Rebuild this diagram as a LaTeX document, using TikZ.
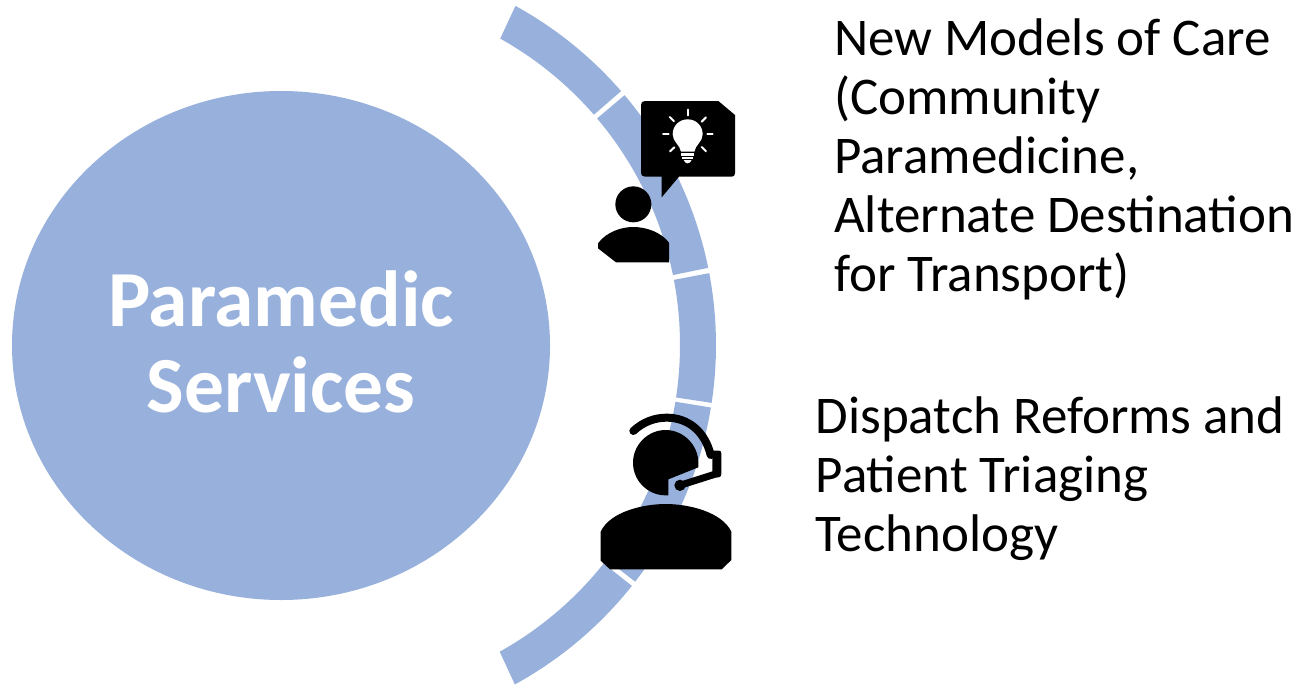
\documentclass[tikz,border=0pt]{standalone}
\usepackage{fontspec}
\setmainfont{Carlito}
\usetikzlibrary{shapes.geometric}
\definecolor{bandblue}{HTML}{98B1DC}
\tikzset{
  bodytext/.style={anchor=north west,inner sep=0pt,align=left,text=black,font=\fontsize{53}{59}\selectfont},
  seg/.style={fill=bandblue,draw=none},
  icon/.style={fill=black,draw=none},
  iconw/.style={draw=white,line width=2pt,line cap=round}
}
\begin{document}
\begin{tikzpicture}[x=1pt,y=-1pt]
\useasboundingbox (0,0) rectangle (1305,685);
\node[ellipse,fill=bandblue,minimum width=538pt,minimum height=509pt,inner sep=0pt] (main) at (281,345.5) {};
\node[inner sep=0pt,align=center,text=white,font=\fontsize{79.5}{86}\selectfont\bfseries] (maintitle) at (281,342) {Paramedic\\Services};
\def\cx{329}
\foreach \a/\b/\c/\d in {61.2/41.0/60.8/41.0,40.2/11.5/40.2/11.5,10.7/-8.6/10.7/-8.6,-9.3/-37.7/-9.3/-37.7,-38.5/-61.3/-38.5/-60.9}{
  \fill[seg] ({\cx+387*cos(\a)},{345-387*sin(\a)})
    arc[start angle=\a,end angle=\b,radius=387pt]
    -- ({\cx+351*cos(\d)},{345-351*sin(\d)})
    arc[start angle=\d,end angle=\c,radius=351pt] -- cycle;
}
% idea icon
\begin{scope}[shift={(580,80)},scale=1/3]
  \fill[icon] (195,63) -- (415,63) -- (465,105) -- (465,280)
     .. controls (465,287) and (461,290) .. (455,290) -- (297,290) -- (245,352) -- (245,290) -- (195,290)
     .. controls (187,290) and (183,286) .. (183,278) -- (183,75) .. controls (183,67) and (187,63) .. (195,63) -- cycle;
  \fill[white] (323,118) .. controls (297,118) and (278,138) .. (278,163)
     .. controls (278,185) and (300,195) .. (303,215) -- (343,215)
     .. controls (346,195) and (368,185) .. (368,163) .. controls (368,138) and (349,118) .. (323,118) -- cycle;
  \fill[white] (303,219) rectangle (343,228);
  \fill[white] (307,232) rectangle (339,238);
  \fill[white] (311,240) -- (335,240) .. controls (332,247) and (327,250) .. (323,250) .. controls (318,250) and (314,247) .. (311,240) -- cycle;
  \draw[iconw] (323,89) -- (323,106);
  \draw[iconw] (269,111) -- (282,124);
  \draw[iconw] (378,112) -- (365,125);
  \draw[iconw] (249,163) -- (266,163);
  \draw[iconw] (382,163) -- (398,163);
  \draw[iconw] (270,214) -- (283,202);
  \draw[iconw] (378,214) -- (365,201);
  \fill[icon] (160,373) circle (54);
  \fill[icon] (54,490) .. controls (80,455) and (125,441) .. (160,441)
     .. controls (200,441) and (245,458) .. (267,488) -- (267,547) -- (108,547) -- (54,505) -- cycle;
\end{scope}
% headset icon
\begin{scope}[shift={(580,380)},scale=1/3]
  \fill[icon] (257,150) .. controls (310,150) and (355,195) .. (355,248) -- (355,262) -- (265,298) -- (265,346) -- (257,346)
     .. controls (203,346) and (159,302) .. (159,248) .. controls (159,195) and (203,150) .. (257,150) -- cycle;
  \draw[line width=8pt,line cap=round] (160,153) .. controls (190,125) and (225,113) .. (260,113)
     .. controls (325,113) and (375,155) .. (392,225);
  \fill[icon] (397,212) -- (417,212) .. controls (422,212) and (424,215) .. (424,220)
     -- (424,282) .. controls (424,288) and (421,291) .. (416,292) -- (397,292) -- cycle;
  \draw[line width=7pt,line cap=round] (300,316) -- (410,281);
  \fill[icon] (300,316) circle (17);
  \fill[icon] (62,455) .. controls (90,395) and (190,372) .. (257,372)
     .. controls (325,372) and (425,395) .. (454,455) -- (454,540) -- (425,568) -- (90,568) -- (62,542) -- cycle;
\end{scope}
\node[bodytext] (care) at (834,18) {New Models of Care\\(Community\\Paramedicine,\\Alternate Destination\\for Transport)};
\node[bodytext] (dispatch) at (815.5,396) {Dispatch Reforms and\\Patient Triaging\\Technology};
\end{tikzpicture}
\end{document}
